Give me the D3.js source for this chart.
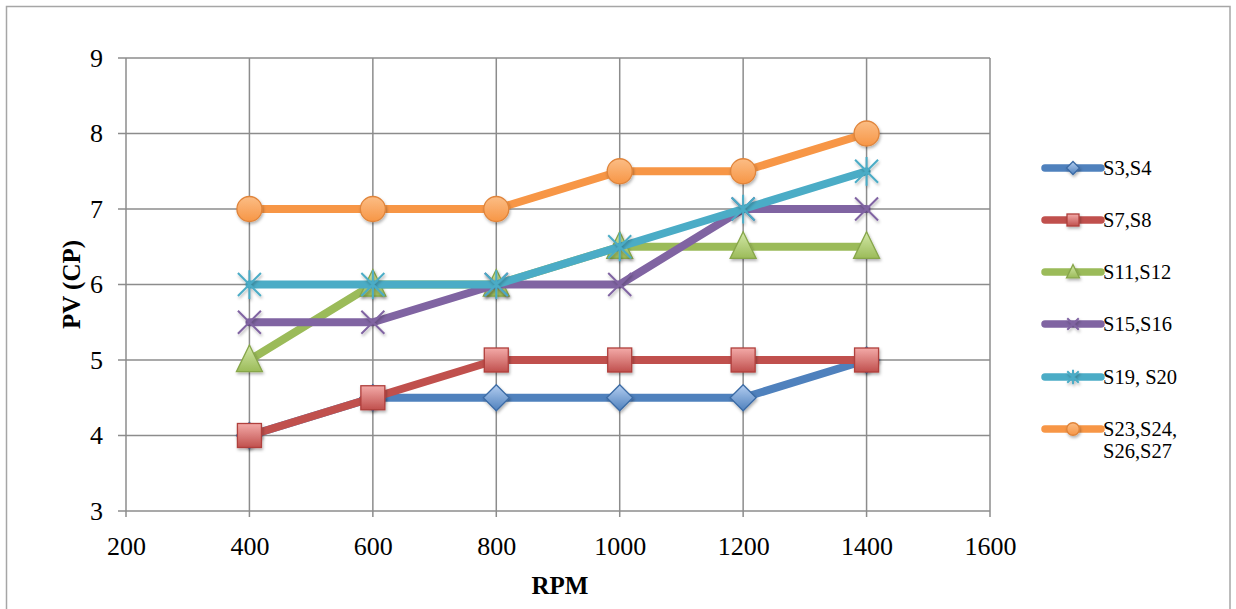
<!DOCTYPE html>
<html>
<head>
<meta charset="utf-8">
<script src="https://cdn.jsdelivr.net/npm/d3@7"></script>
<style>
  html, body { margin: 0; padding: 0; background: #fff; }
  svg { display: block; font-family: "Liberation Serif", "Times New Roman", serif; }
</style>
</head>
<body>
<svg id="chart" width="1236" height="609"></svg>
<script>
// RPM sweep and pore-volume readings per sample group
const rpm = [400, 600, 800, 1000, 1200, 1400];
const seriesNames = ["S3,S4", "S7,S8", "S11,S12", "S15,S16", "S19, S20", "S23,S24,\nS26,S27"];
const s3s4   = [4, 4.5, 4.5, 4.5, 4.5, 5];
const s7s8   = [4, 4.5, 5, 5, 5, 5];
const s11s12 = [5, 6, 6, 6.5, 6.5, 6.5];
const s15s16 = [5.5, 5.5, 6, 6, 7, 7];
const s19s20 = [6, 6, 6, 6.5, 7, 7.5];
const s23s27 = [7, 7, 7, 7.5, 7.5, 8];
const xTicks = [200, 400, 600, 800, 1000, 1200, 1400, 1600];
const yTicks = [3, 4, 5, 6, 7, 8, 9];

const styles = [
  { color: "#4f81bd", light: "#b3cdf0", edge: "#3b6ba5", marker: "diamond" },
  { color: "#c0504d", light: "#f3aaa8", edge: "#b03f3c", marker: "square" },
  { color: "#9bbb59", light: "#d3e8a8", edge: "#87a64a", marker: "triangle" },
  { color: "#8064a2", light: "#8064a2", edge: "#8064a2", marker: "x" },
  { color: "#4bacc6", light: "#4bacc6", edge: "#4bacc6", marker: "star" },
  { color: "#f79646", light: "#fbbd85", edge: "#e0843a", marker: "circle" }
];
const values = [s3s4, s7s8, s11s12, s15s16, s19s20, s23s27];

const svg = d3.select("#chart");
const W = 1236, H = 609;

// outer frame
svg.append("rect").attr("x", 6.5).attr("y", 6.5).attr("width", 1223.5).attr("height", H + 10)
  .attr("fill", "#fff").attr("stroke", "#a6a6a6").attr("stroke-width", 1.5);

const plot = { left: 126, right: 990, top: 58, bottom: 511 };
const x = d3.scaleLinear().domain([200, 1600]).range([plot.left, plot.right]);
const y = d3.scaleLinear().domain([3, 9]).range([plot.bottom, plot.top]);

const defs = svg.append("defs");
styles.forEach((s, i) => {
  const g = defs.append("linearGradient").attr("id", "grad" + i)
    .attr("x1", 0).attr("y1", 0).attr("x2", 0).attr("y2", 1);
  g.append("stop").attr("offset", "0%").attr("stop-color", s.light);
  g.append("stop").attr("offset", "100%").attr("stop-color", s.color);
});
const shadow = defs.append("filter").attr("id", "shadow")
  .attr("x", "-50%").attr("y", "-50%").attr("width", "200%").attr("height", "200%");
shadow.append("feDropShadow").attr("dx", 1).attr("dy", 2).attr("stdDeviation", 1.5)
  .attr("flood-color", "#000").attr("flood-opacity", 0.3);

// gridlines
const grid = svg.append("g");
grid.selectAll(".gx").data(xTicks).join("line")
  .attr("x1", d => x(d)).attr("x2", d => x(d))
  .attr("y1", plot.top).attr("y2", plot.bottom + 6)
  .attr("stroke", "#8c8c8c").attr("stroke-width", 1.5);
grid.selectAll(".gy").data(yTicks).join("line")
  .attr("x1", plot.left - 8).attr("x2", plot.right)
  .attr("y1", d => y(d)).attr("y2", d => y(d))
  .attr("stroke", "#8c8c8c").attr("stroke-width", 1.5);

// tick labels via d3 axes
const xAxis = svg.append("g").attr("transform", `translate(0,${plot.bottom})`)
  .call(d3.axisBottom(x).tickValues(xTicks).tickSize(0).tickPadding(26).tickFormat(d3.format("d")));
const yAxis = svg.append("g").attr("transform", `translate(${plot.left},0)`)
  .call(d3.axisLeft(y).tickValues(yTicks).tickSize(0).tickPadding(23).tickFormat(d3.format("d")));
[xAxis, yAxis].forEach(a => {
  a.select(".domain").remove();
  a.selectAll("text").attr("font-family", "Liberation Serif").attr("font-size", 26).attr("fill", "#000");
});
xAxis.selectAll("text").attr("dy", "0.7em");

svg.append("text").attr("x", 560).attr("y", 594)
  .attr("text-anchor", "middle").attr("font-weight", "bold").attr("font-size", 25).text("RPM");
svg.append("text").attr("transform", `translate(80,${(plot.top + plot.bottom) / 2}) rotate(-90)`)
  .attr("text-anchor", "middle").attr("font-weight", "bold").attr("font-size", 25).text("PV (CP)");

// k scales the marker: 1 on the plot, smaller in the legend
function drawMarker(g, type, i, k) {
  const s = styles[i];
  const filled = sel => sel.attr("fill", `url(#grad${i})`).attr("stroke", s.edge)
    .attr("stroke-width", 1.3).attr("filter", "url(#shadow)");
  if (type === "circle") {
    g.append("circle").attr("r", 12.5 * k).call(filled);
  } else if (type === "square") {
    const h = 12 * k;
    g.append("rect").attr("x", -h).attr("y", -h).attr("width", 2 * h).attr("height", 2 * h).call(filled);
  } else if (type === "diamond") {
    const r = 13 * k;
    g.append("path").attr("d", `M0,${-r}L${r},0L0,${r}L${-r},0Z`).call(filled);
  } else if (type === "triangle") {
    const r = 13 * k;
    g.append("path").attr("d", `M0,${-r * 1.15}L${r},${r * 0.9}L${-r},${r * 0.9}Z`).call(filled);
  } else if (type === "x") {
    const r = 11.5 * k;
    g.append("path").attr("d", `M${-r},${-r}L${r},${r}M${-r},${r}L${r},${-r}`)
      .attr("stroke", s.color).attr("stroke-width", 2).attr("filter", "url(#shadow)");
  } else if (type === "star") {
    const r = 11.5 * k;
    g.append("path").attr("d", `M${-r},${-r}L${r},${r}M${-r},${r}L${r},${-r}M0,${-r * 1.25}L0,${r * 1.25}`)
      .attr("stroke", s.color).attr("stroke-width", 2).attr("filter", "url(#shadow)");
  }
}

const line = d3.line().x((d, k) => x(rpm[k])).y(d => y(d));
values.forEach((vals, i) => {
  const g = svg.append("g");
  g.append("path").datum(vals).attr("d", line).attr("fill", "none")
    .attr("stroke", styles[i].color).attr("stroke-width", 8)
    .attr("stroke-linejoin", "round").attr("stroke-linecap", "round");
  vals.forEach((v, k) => {
    const m = g.append("g").attr("transform", `translate(${x(rpm[k])},${y(v)})`);
    drawMarker(m, styles[i].marker, i, 1);
  });
});

// legend
const legY = [168, 220, 272, 324, 377, 429];
seriesNames.forEach((name, i) => {
  const g = svg.append("g").attr("transform", `translate(1043,${legY[i]})`);
  g.append("line").attr("x1", 2).attr("x2", 58).attr("stroke", styles[i].color)
    .attr("stroke-width", 7.5).attr("stroke-linecap", "round");
  const m = g.append("g").attr("transform", "translate(30,0)");
  drawMarker(m, styles[i].marker, i, 0.5);
  name.split("\n").forEach((part, j) => {
    g.append("text").attr("x", 60).attr("y", j * 22).attr("dy", "0.35em")
      .attr("font-size", 20.5).attr("fill", "#000").text(part);
  });
});
</script>
</body>
</html>
